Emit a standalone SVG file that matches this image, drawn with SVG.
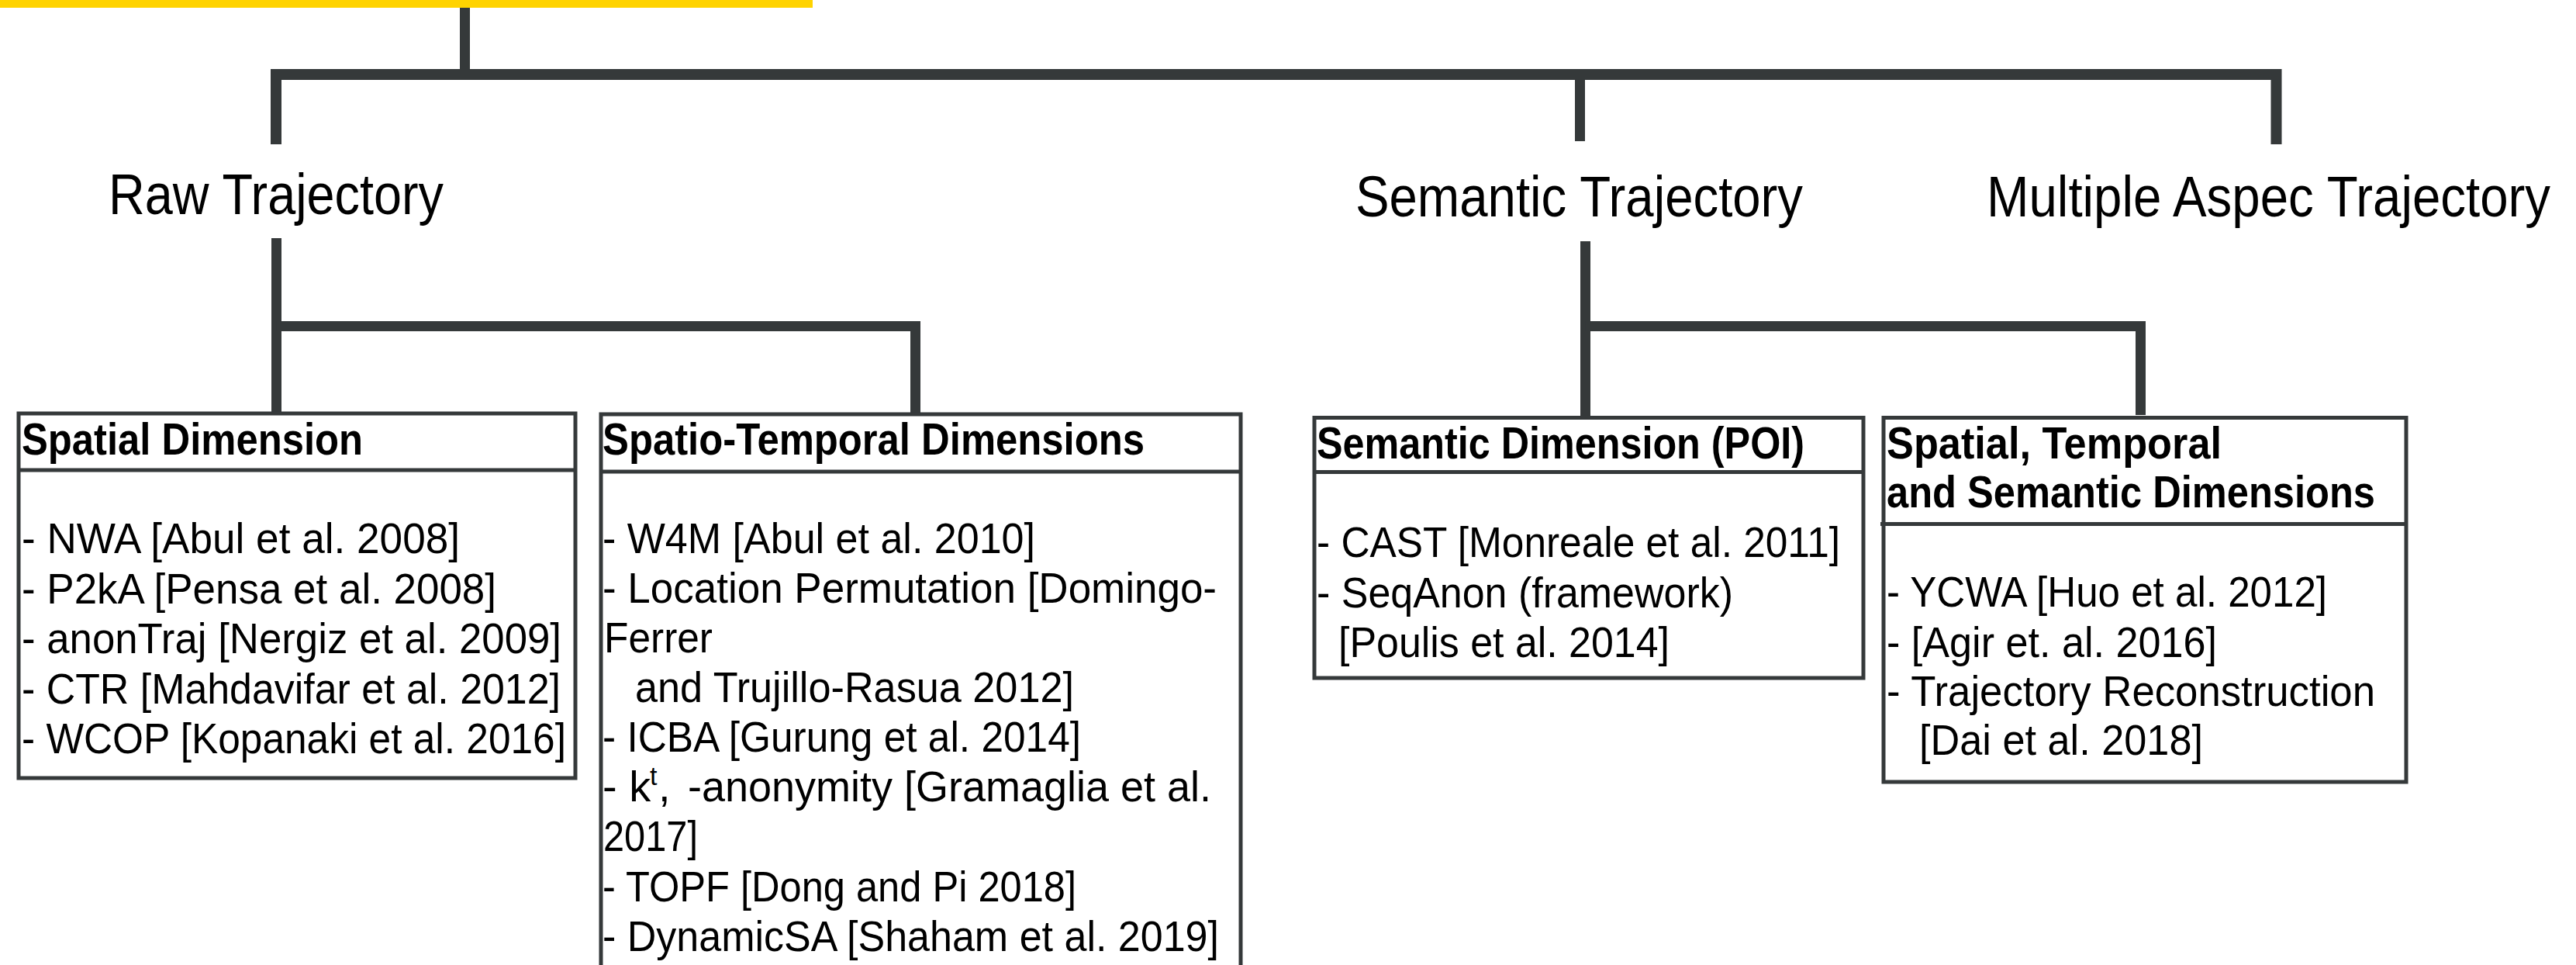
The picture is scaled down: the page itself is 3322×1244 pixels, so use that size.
<svg xmlns="http://www.w3.org/2000/svg" width="3322" height="1244" viewBox="0 0 3322 1244">
<style>
.ln{fill:none;stroke:#35393a;stroke-width:13;stroke-linejoin:miter;stroke-linecap:butt}
.box{fill:#ffffff;stroke:#35393a;stroke-width:5}
.dv{stroke:#35393a;stroke-width:5}
text{font-family:"Liberation Sans",Arial,sans-serif;fill:#000000}
.lbl{font-size:74px}
.hd{font-size:57px;font-weight:bold}
.it{font-size:56px}
.sup{font-size:34px}
</style>
<rect width="3322" height="1244" fill="#ffffff"/>
<g id="root">
<rect x="0" y="0" width="1048" height="10" fill="#ffd300"/>
</g>
<g id="connectors">
<path class="ln" d="M599.5 10 V96"/>
<path class="ln" style="stroke-width:14" d="M356 186 V96 H2935.5 V186"/>
<path class="ln" d="M2037.5 96 V182"/>
<path class="ln" d="M356.5 307 V531"/>
<path class="ln" d="M356.5 420.5 H1180.5 V533"/>
<path class="ln" d="M2044.5 311 V536"/>
<path class="ln" d="M2044.5 420.5 H2760.5 V535"/>
</g>
<g id="raw-trajectory">
<text class="lbl" x="140" y="276" textLength="432" lengthAdjust="spacingAndGlyphs">Raw Trajectory</text>
</g>
<g id="semantic-trajectory">
<text class="lbl" x="1748" y="279" textLength="577" lengthAdjust="spacingAndGlyphs">Semantic Trajectory</text>
</g>
<g id="multiple-aspect-trajectory">
<text class="lbl" transform="translate(2562 279) scale(0.884 1)" x="0" y="0">Multiple Aspec Trajectory</text>
</g>
<g id="spatial-dimension">
<rect class="box" x="24" y="533" width="718" height="470"/>
<line class="dv" x1="24" y1="606" x2="742" y2="606"/>
<text class="hd" x="28" y="586" textLength="440" lengthAdjust="spacingAndGlyphs">Spatial Dimension</text>
<text class="it" x="28" y="713" textLength="565" lengthAdjust="spacingAndGlyphs">- NWA [Abul et al. 2008]</text>
<text class="it" x="28" y="778" textLength="612" lengthAdjust="spacingAndGlyphs">- P2kA [Pensa et al. 2008]</text>
<text class="it" x="28" y="842" textLength="696" lengthAdjust="spacingAndGlyphs">- anonTraj [Nergiz et al. 2009]</text>
<text class="it" x="28" y="907" textLength="695" lengthAdjust="spacingAndGlyphs">- CTR [Mahdavifar et al. 2012]</text>
<text class="it" x="28" y="971" textLength="702" lengthAdjust="spacingAndGlyphs">- WCOP [Kopanaki et al. 2016]</text>
</g>
<g id="spatio-temporal-dimensions">
<rect class="box" x="775" y="534" width="825" height="760"/>
<line class="dv" x1="775" y1="608" x2="1600" y2="608"/>
<text class="hd" x="777" y="586" textLength="699" lengthAdjust="spacingAndGlyphs">Spatio-Temporal Dimensions</text>
<text class="it" x="777" y="713" textLength="558" lengthAdjust="spacingAndGlyphs">- W4M [Abul et al. 2010]</text>
<text class="it" x="777" y="777" textLength="792" lengthAdjust="spacingAndGlyphs">- Location Permutation [Domingo-</text>
<text class="it" x="779" y="841" textLength="140" lengthAdjust="spacingAndGlyphs">Ferrer</text>
<text class="it" x="819" y="905" textLength="566" lengthAdjust="spacingAndGlyphs">and Trujillo-Rasua 2012]</text>
<text class="it" x="777" y="969" textLength="617" lengthAdjust="spacingAndGlyphs">- ICBA [Gurung et al. 2014]</text>
<text class="it" y="1033"><tspan x="777">- k</tspan><tspan class="sup" x="838" y="1012">t</tspan><tspan x="849" y="1033">,</tspan><tspan x="887" textLength="675" lengthAdjust="spacingAndGlyphs">-anonymity [Gramaglia et al.</tspan></text>
<text class="it" x="778" y="1097" textLength="122" lengthAdjust="spacingAndGlyphs">2017]</text>
<text class="it" x="777" y="1162" textLength="611" lengthAdjust="spacingAndGlyphs">- TOPF [Dong and Pi 2018]</text>
<text class="it" x="777" y="1226" textLength="795" lengthAdjust="spacingAndGlyphs">- DynamicSA [Shaham et al. 2019]</text>
</g>
<g id="semantic-dimension-poi">
<rect class="box" x="1695" y="538.5" width="708" height="335.5"/>
<line class="dv" x1="1695" y1="608.5" x2="2403" y2="608.5"/>
<text class="hd" x="1698" y="591" textLength="629" lengthAdjust="spacingAndGlyphs">Semantic Dimension (POI)</text>
<text class="it" x="1698" y="718" textLength="675" lengthAdjust="spacingAndGlyphs">- CAST [Monreale et al. 2011]</text>
<text class="it" x="1698" y="783" textLength="537" lengthAdjust="spacingAndGlyphs">- SeqAnon (framework)</text>
<text class="it" x="1726" y="847" textLength="427" lengthAdjust="spacingAndGlyphs">[Poulis et al. 2014]</text>
</g>
<g id="spatial-temporal-semantic-dimensions">
<rect class="box" x="2429" y="538.5" width="674" height="469.5"/>
<line class="dv" x1="2425" y1="675.5" x2="3103" y2="675.5"/>
<text class="hd" x="2433" y="591" textLength="432" lengthAdjust="spacingAndGlyphs">Spatial, Temporal</text>
<text class="hd" x="2433" y="654" textLength="630" lengthAdjust="spacingAndGlyphs">and Semantic Dimensions</text>
<text class="it" x="2433" y="782" textLength="568" lengthAdjust="spacingAndGlyphs">- YCWA [Huo et al. 2012]</text>
<text class="it" x="2433" y="847" textLength="426" lengthAdjust="spacingAndGlyphs">- [Agir et. al. 2016]</text>
<text class="it" x="2433" y="910" textLength="630" lengthAdjust="spacingAndGlyphs">- Trajectory Reconstruction</text>
<text class="it" x="2475" y="973" textLength="366" lengthAdjust="spacingAndGlyphs">[Dai et al. 2018]</text>
</g>
</svg>
